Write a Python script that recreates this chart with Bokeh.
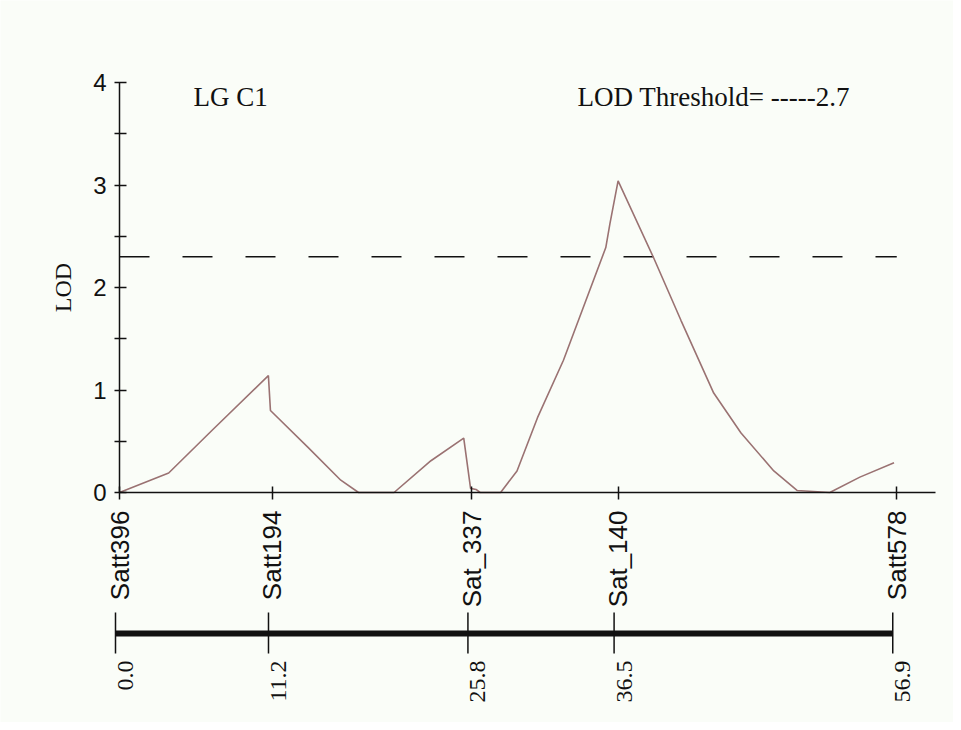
import math
from bokeh.plotting import figure
from bokeh.models import FixedTicker, Range1d, ColumnDataSource, LinearAxis
from bokeh.embed import file_html
from bokeh.resources import INLINE
from bokeh.core.properties import value

# ---------------- data ----------------
marker_names = ["Satt396", "Satt194", "Sat_337", "Sat_140", "Satt578"]
marker_pos = [0.0, 11.2, 25.8, 36.5, 56.9]
marker_pos_labels = ["0.0", "11.2", "25.8", "36.5", "56.9"]

curve_cm = [0.0, 3.6, 6.8, 10.9, 11.05, 13.8, 16.2, 17.5, 20.1, 22.8, 25.2,
            25.7, 26.1, 26.4, 27.9, 29.1, 30.6, 32.5, 35.6, 35.9, 36.5,
            39.1, 41.1, 43.5, 45.5, 47.9, 49.6, 52.0, 54.2, 56.7]
curve_lod = [0.0, 0.19, 0.61, 1.14, 0.80, 0.44, 0.12, 0.0, 0.0, 0.31, 0.53,
             0.04, 0.03, 0.0, 0.0, 0.21, 0.73, 1.29, 2.39, 2.62, 3.04,
             2.29, 1.68, 0.97, 0.58, 0.21, 0.02, 0.0, 0.15, 0.29]

threshold_lod = 2.3
y_major_ticks = [0, 1, 2, 3, 4]
y_minor_ticks = [0.5, 1.5, 2.5, 3.5]
group_title = "LG C1"
threshold_title = "LOD Threshold= -----2.7"

# ---------------- layout constants ----------------
BG = "#fafdf8"
INK = "#111111"
CURVE = "#9a7272"
PX_CM = 13.66      # pixels per cM
PX_LOD = 102.5     # pixels per LOD unit
W, H = 953, 722
X0_PX, Y0_PX = 119, 492   # where (0 cM, 0 LOD) sits on the canvas
AXIS_END = 59.74

p = figure(width=W, height=H,
           x_range=Range1d(-X0_PX / PX_CM, (W - X0_PX) / PX_CM),
           y_range=Range1d((Y0_PX - H) / PX_LOD, Y0_PX / PX_LOD),
           min_border_left=0, min_border_right=0,
           min_border_top=0, min_border_bottom=0,
           x_axis_location=None, y_axis_location=None,
           toolbar_location=None, tools="", output_backend="svg")
p.background_fill_color = BG
p.border_fill_color = BG
p.outline_line_color = None
p.grid.visible = False

# y axis at x = 0
ya = LinearAxis(fixed_location=0)
ya.bounds = (0, 4)
ya.ticker = FixedTicker(ticks=y_major_ticks, minor_ticks=y_minor_ticks)
ya.axis_line_width = 1.5
ya.axis_line_color = INK
ya.major_tick_line_color = INK
ya.minor_tick_line_color = INK
ya.major_tick_line_width = 1.5
ya.minor_tick_line_width = 1.5
ya.major_tick_in = 7
ya.major_tick_out = 5
ya.minor_tick_in = 7
ya.minor_tick_out = 5
ya.major_label_text_font = "Liberation Sans"
ya.major_label_text_font_size = "24px"
ya.major_label_text_color = INK
ya.major_label_standoff = 8
ya.axis_label = "LOD"
ya.axis_label_text_font = "Liberation Serif"
ya.axis_label_text_font_style = "normal"
ya.axis_label_text_font_size = "24px"
ya.axis_label_text_color = INK
ya.axis_label_standoff = 14
p.add_layout(ya, "left")

# x axis at LOD = 0, carrying marker names
xa = LinearAxis(fixed_location=0)
xa.bounds = (0, AXIS_END)
xa.ticker = FixedTicker(ticks=marker_pos, minor_ticks=[])
xa.major_label_overrides = {pos: name for pos, name in zip(marker_pos, marker_names)}
xa.major_label_orientation = math.pi / 2
xa.major_label_text_font = "Liberation Sans"
xa.major_label_text_font_size = "26px"
xa.major_label_text_color = INK
xa.major_label_standoff = 11
xa.axis_line_width = 1.5
xa.axis_line_color = INK
xa.major_tick_line_color = INK
xa.major_tick_line_width = 1.5
xa.major_tick_in = 6
xa.major_tick_out = 7
xa.minor_tick_line_color = None
p.add_layout(xa, "below")

# threshold line
p.line(x=[marker_pos[0], marker_pos[-1]], y=[threshold_lod, threshold_lod],
       line_color=INK, line_width=1.5, line_dash="30 33")

# LOD curve
p.line(x=curve_cm, y=curve_lod, line_color=CURVE, line_width=1.6)

# titles inside the plot
title_y = (Y0_PX - 96) / PX_LOD
p.text(x=[(193 - X0_PX) / PX_CM], y=[title_y], text=[group_title],
       text_font=value("Liberation Serif"), text_font_size="27px",
       text_color=INK, text_align="left", text_baseline="middle")
p.text(x=[(577 - X0_PX) / PX_CM], y=[title_y], text=[threshold_title],
       text_font=value("Liberation Serif"), text_font_size="27px",
       text_color=INK, text_align="left", text_baseline="middle")

# ---------------- linkage map below ----------------
BAR_SHIFT = -4 / PX_CM
bar_y = (Y0_PX - 633) / PX_LOD
src = ColumnDataSource(dict(pos=[v + BAR_SHIFT for v in marker_pos], lab=marker_pos_labels))
p.segment(x0=[marker_pos[0] + BAR_SHIFT], y0=[bar_y], x1=[marker_pos[-1] + BAR_SHIFT], y1=[bar_y],
          line_color=INK, line_width=6, line_cap="butt")
p.segment(x0="pos", y0=(Y0_PX - 612) / PX_LOD, x1="pos", y1=(Y0_PX - 653) / PX_LOD, source=src,
          line_color=INK, line_width=1.5)
p.text(x="pos", y=(Y0_PX - 660) / PX_LOD, text="lab", source=src, angle=math.pi / 2,
       text_font=value("Liberation Serif"), text_font_size="24px", text_color=INK,
       text_align="right", text_baseline="middle", x_offset=10)

open("out.html", "w").write(file_html(p, INLINE))
